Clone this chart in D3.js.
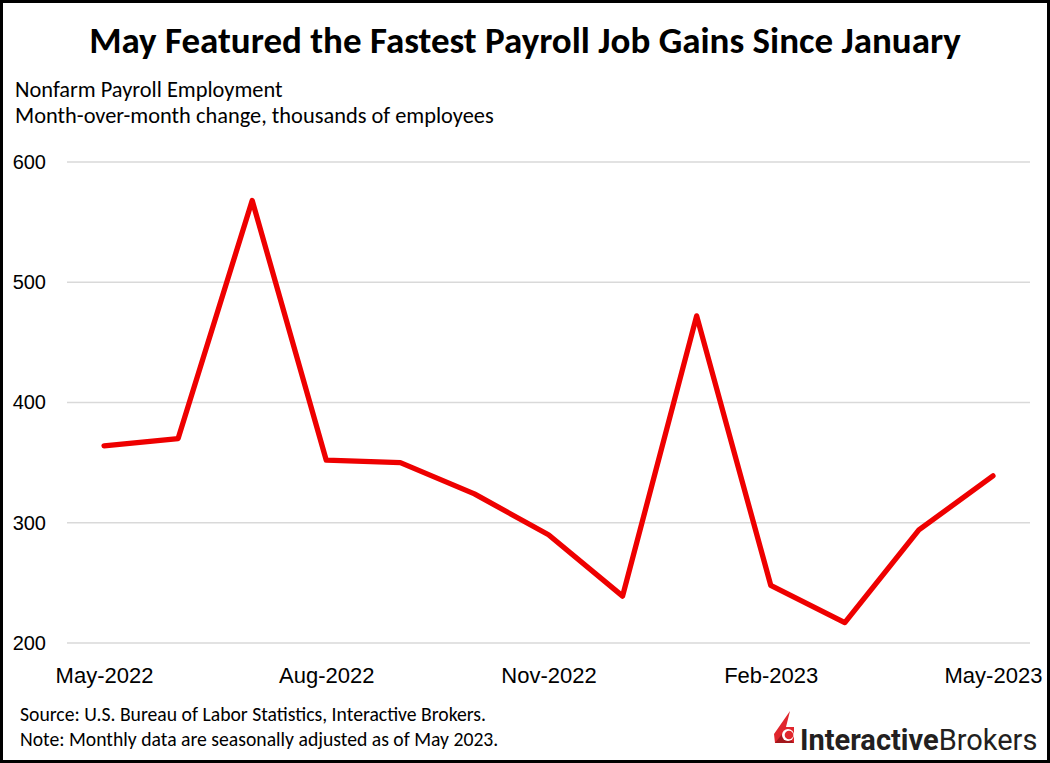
<!DOCTYPE html>
<html>
<head>
<meta charset="utf-8">
<script src="https://cdn.jsdelivr.net/npm/d3@7"></script>
<style>
  body { margin: 0; background: #fff; }
  svg { display: block; font-family: Carlito, Lato, "Open Sans", sans-serif; }
</style>
</head>
<body>
<div id="chart"></div>
<script>
// monthly data
const months = ["May-2022", "Jun-2022", "Jul-2022", "Aug-2022", "Sep-2022", "Oct-2022", "Nov-2022",
    "Dec-2022", "Jan-2023", "Feb-2023", "Mar-2023", "Apr-2023", "May-2023"];
const payrollChange = [364, 370, 568, 352, 350, 324, 290, 239, 472, 248, 217, 294, 339];
const yTicks = [200, 300, 400, 500, 600];
const xLabels = ["May-2022", "Aug-2022", "Nov-2022", "Feb-2023", "May-2023"];

const width = 1050, height = 763;
const plot = { left: 67, right: 1030, top: 162, bottom: 643 };

const svg = d3.select("#chart").append("svg")
    .attr("width", width)
    .attr("height", height);

// outer frame
svg.append("rect")
    .attr("x", 1.5).attr("y", 1.5)
    .attr("width", width - 3).attr("height", height - 3)
    .attr("fill", "#fff").attr("stroke", "#000").attr("stroke-width", 3);

const x = d3.scalePoint()
    .domain(months)
    .range([plot.left, plot.right])
    .padding(0.5);

const y = d3.scaleLinear()
    .domain([200, 600])
    .range([plot.bottom, plot.top]);

// gridlines
svg.append("g")
    .selectAll("line")
    .data(yTicks)
    .enter().append("line")
    .attr("x1", plot.left).attr("x2", plot.right)
    .attr("y1", d => y(d)).attr("y2", d => y(d))
    .attr("stroke", "#d9d9d9").attr("stroke-width", 1.3);

// y labels
const yAxis = svg.append("g")
    .attr("transform", `translate(${plot.left},0)`)
    .call(d3.axisLeft(y).tickValues(yTicks).tickSize(0).tickPadding(21));
yAxis.select(".domain").remove();
yAxis.selectAll("text").attr("font-size", 20).attr("fill", "#000").attr("font-family", null);

// x labels
const xAxis = svg.append("g")
    .attr("transform", `translate(0,${plot.bottom})`)
    .call(d3.axisBottom(x).tickValues(xLabels).tickSize(0).tickPadding(24));
xAxis.select(".domain").remove();
xAxis.selectAll("text").attr("font-size", 22).attr("fill", "#000").attr("font-family", null);

// the line
const line = d3.line()
    .x((d, i) => x(months[i]))
    .y(d => y(d));

svg.append("path")
    .datum(payrollChange)
    .attr("d", line)
    .attr("fill", "none")
    .attr("stroke", "#ee0000")
    .attr("stroke-width", 5.3)
    .attr("stroke-linejoin", "round")
    .attr("stroke-linecap", "round");

// titles
svg.append("text")
    .attr("x", 525).attr("y", 53)
    .attr("text-anchor", "middle")
    .attr("font-size", 37).attr("font-weight", "bold")
    .text("May Featured the Fastest Payroll Job Gains Since January");

svg.append("text").attr("x", 15).attr("y", 97).attr("font-size", 22.4)
    .text("Nonfarm Payroll Employment");
svg.append("text").attr("x", 15).attr("y", 123).attr("font-size", 22.4)
    .text("Month-over-month change, thousands of employees");

// footnotes
svg.append("text").attr("x", 20).attr("y", 721).attr("font-size", 19.7)
    .text("Source: U.S. Bureau of Labor Statistics, Interactive Brokers.");
svg.append("text").attr("x", 20).attr("y", 746).attr("font-size", 19.7)
    .text("Note: Monthly data are seasonally adjusted as of May 2023.");

// logo
const logo = svg.append("g");
logo.append("path")
    .attr("d", "M790,711 L774,734 L775,743 L794,743 L794,727 L786,727 Z")
    .attr("fill", "#e0262d");
logo.append("path")
    .attr("d", "M775,743 L794,743 L783,733 Z")
    .attr("fill", "#a3171c");
logo.append("circle").attr("cx", 788).attr("cy", 735).attr("r", 6).attr("fill", "#fff");
logo.append("circle").attr("cx", 789).attr("cy", 735).attr("r", 4.3).attr("fill", "#e0262d");
const logoText = logo.append("text")
    .attr("x", 800).attr("y", 750)
    .attr("font-family", "Roboto, sans-serif")
    .attr("font-size", 29).attr("fill", "#231f20");
logoText.append("tspan").attr("font-weight", "bold").text("Interactive");
logoText.append("tspan").text("Brokers");
</script>
</body>
</html>
